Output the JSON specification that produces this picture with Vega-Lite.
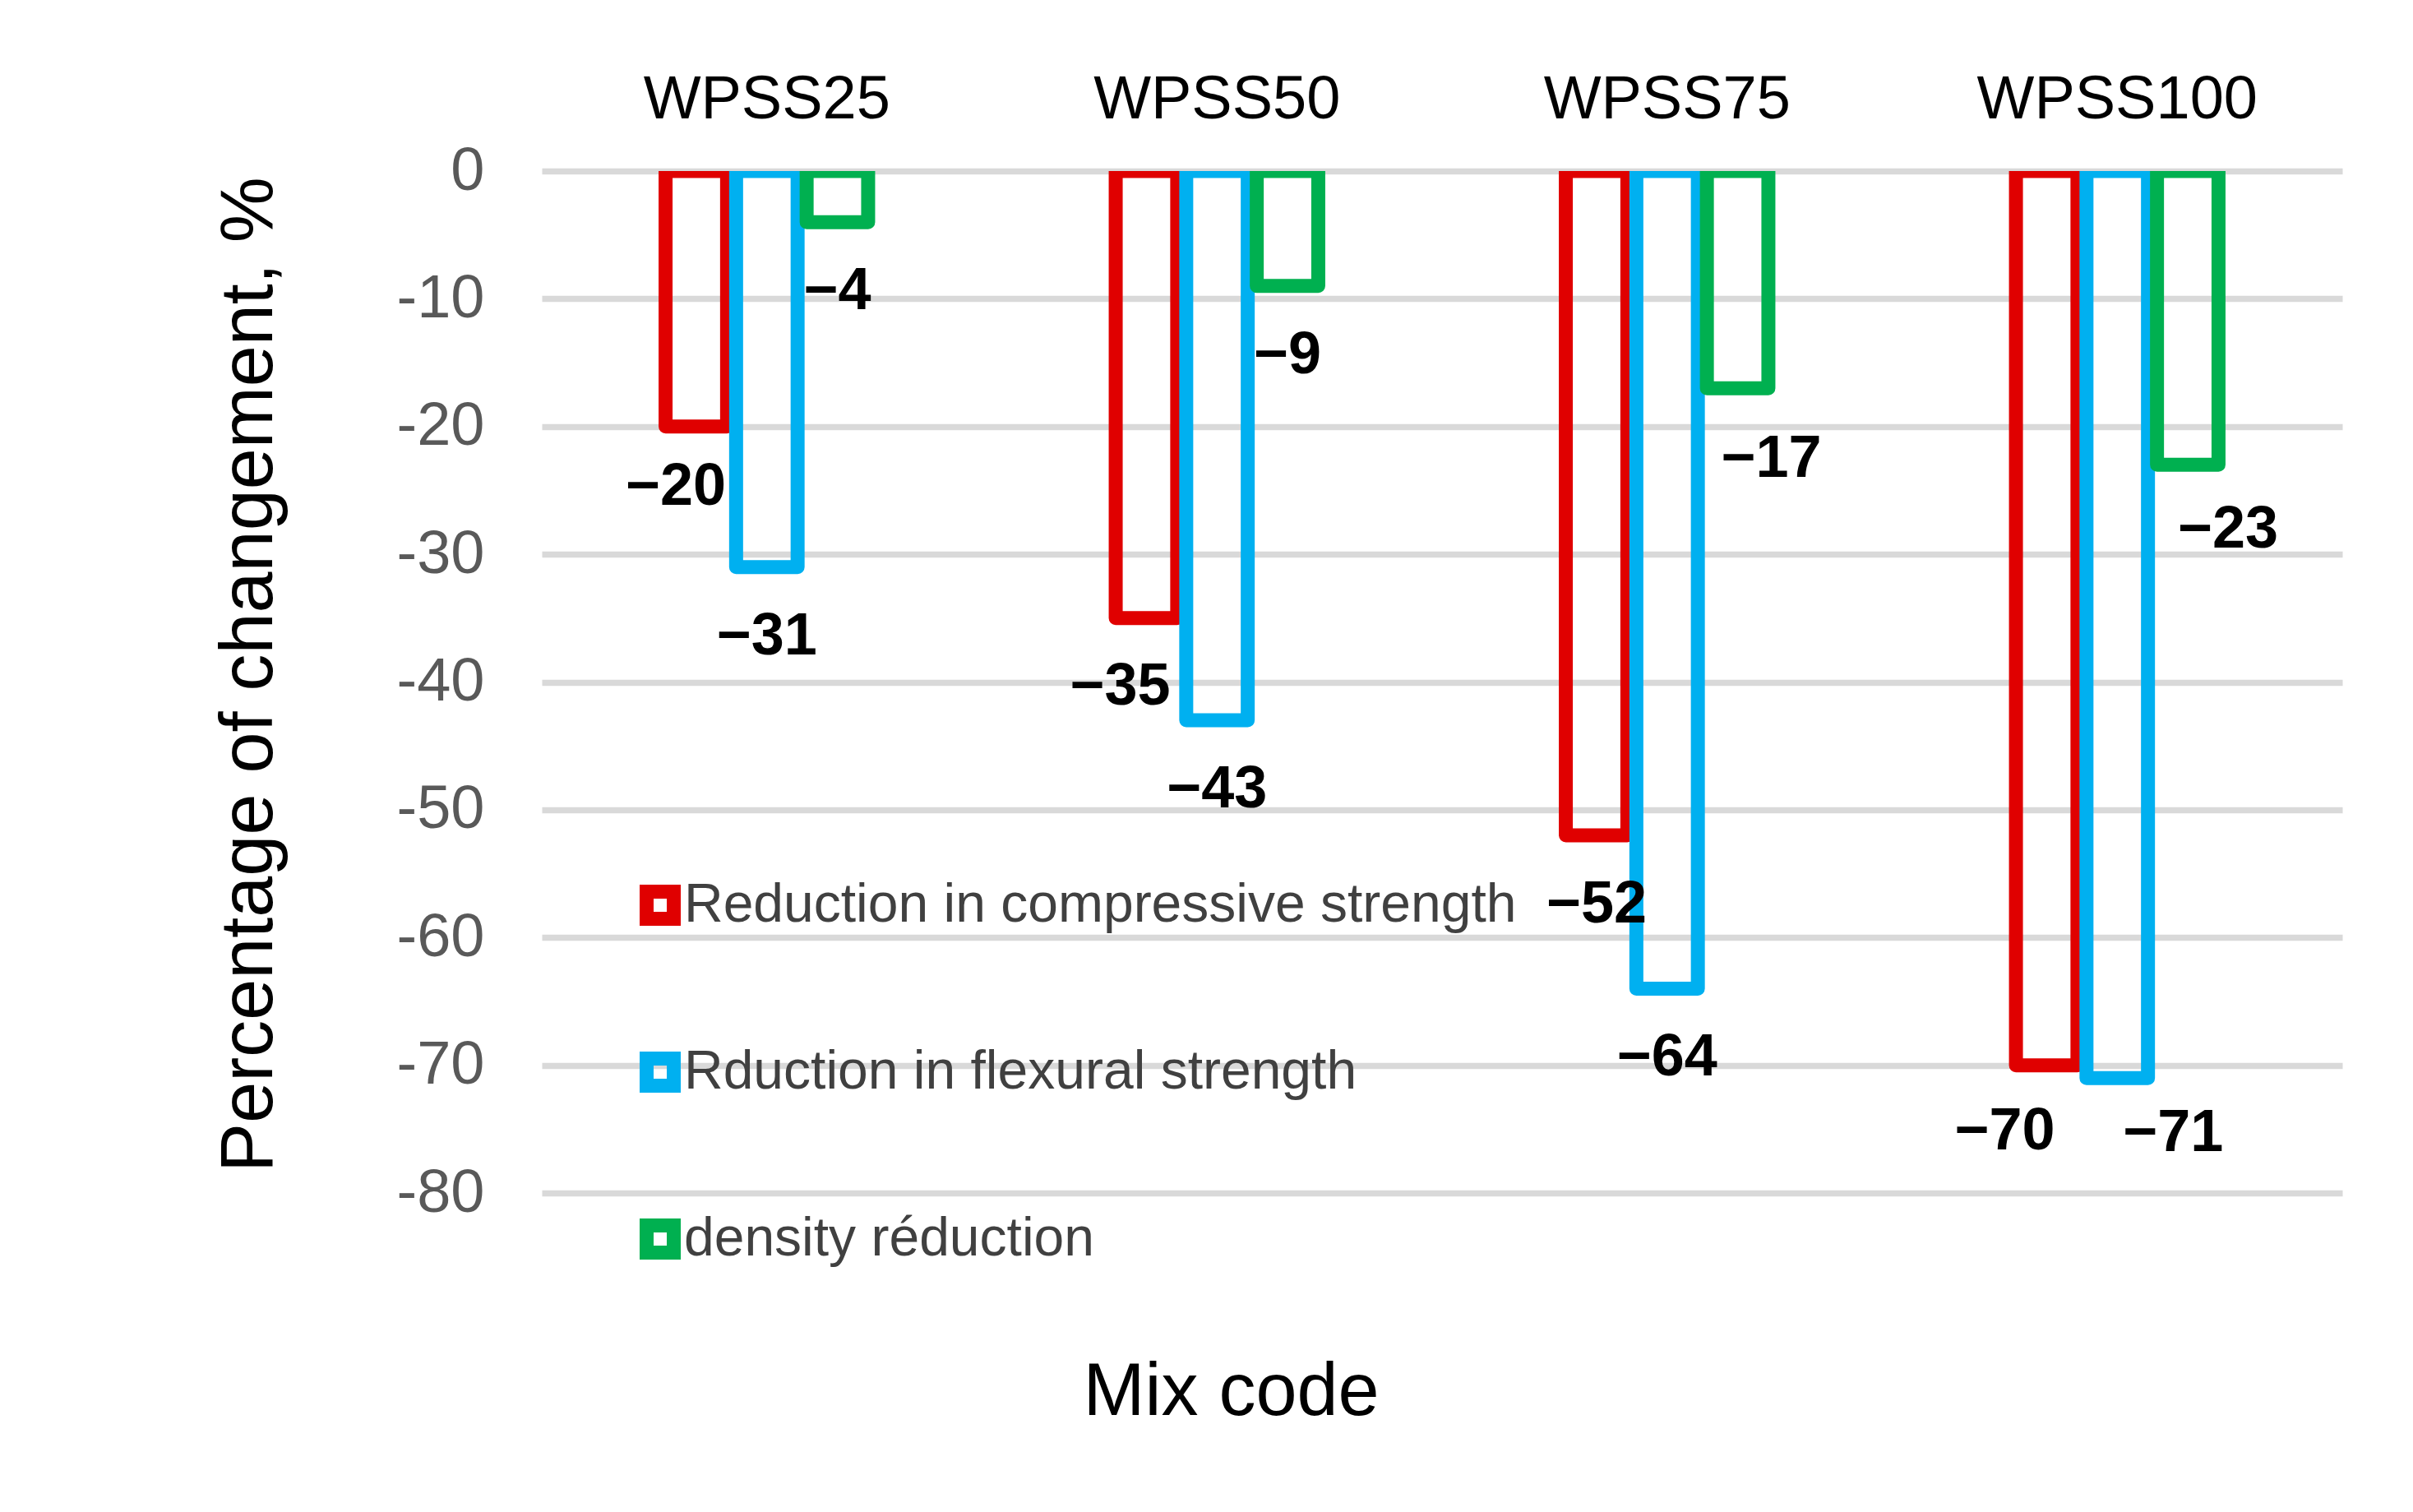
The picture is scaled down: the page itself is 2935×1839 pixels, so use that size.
{
  "$schema": "https://vega.github.io/schema/vega-lite/v6.json",
  "description": "Percentage of change in compressive strength, flexural strength and density for the WPSS mixes.",
  "width": 2190,
  "height": 1243,
  "autosize": "none",
  "padding": {"left": 659, "top": 208, "right": 86, "bottom": 388},
  "background": "white",
  "config": {
    "view": {"stroke": null},
    "font": "Liberation Sans",
    "text": {"fontSize": 72, "fontWeight": "bold", "color": "black", "align": "center", "baseline": "middle"}
  },
  "data": {
    "values": [
      {"mix": "WPSS25", "type": "Reduction in compressive strength", "value": -20},
      {"mix": "WPSS25", "type": "Rduction in flexural strength", "value": -31},
      {"mix": "WPSS25", "type": "density réduction", "value": -4},
      {"mix": "WPSS50", "type": "Reduction in compressive strength", "value": -35},
      {"mix": "WPSS50", "type": "Rduction in flexural strength", "value": -43},
      {"mix": "WPSS50", "type": "density réduction", "value": -9},
      {"mix": "WPSS75", "type": "Reduction in compressive strength", "value": -52},
      {"mix": "WPSS75", "type": "Rduction in flexural strength", "value": -64},
      {"mix": "WPSS75", "type": "density réduction", "value": -17},
      {"mix": "WPSS100", "type": "Reduction in compressive strength", "value": -70},
      {"mix": "WPSS100", "type": "Rduction in flexural strength", "value": -71},
      {"mix": "WPSS100", "type": "density réduction", "value": -23}
    ]
  },
  "encoding": {
    "x": {
      "field": "mix",
      "type": "nominal",
      "sort": ["WPSS25", "WPSS50", "WPSS75", "WPSS100"],
      "scale": {"paddingInner": 0.55, "paddingOuter": 0.275},
      "axis": {
        "orient": "top",
        "title": "Mix code",
        "domain": false,
        "ticks": false,
        "tickSize": 0,
        "grid": false,
        "labelAngle": 0,
        "labelLimit": 0,
        "labelFontSize": 74,
        "labelColor": "black",
        "labelPadding": 65,
        "labelBaseline": "alphabetic",
        "titleFontSize": 90,
        "titleFontWeight": "normal",
        "titleColor": "black",
        "titleX": 838,
        "titleY": 1512,
        "titleAlign": "center",
        "titleBaseline": "alphabetic",
        "titleAngle": 0
      }
    },
    "xOffset": {
      "field": "type",
      "type": "nominal",
      "sort": ["Reduction in compressive strength", "Rduction in flexural strength", "density réduction"],
      "scale": {"paddingInner": 0.128, "paddingOuter": 0}
    },
    "y": {
      "field": "value",
      "type": "quantitative",
      "scale": {"domain": [-80, 0], "nice": false},
      "axis": {
        "title": "Percentage of changement, %",
        "values": [-80, -70, -60, -50, -40, -30, -20, -10, 0],
        "domain": false,
        "ticks": false,
        "tickSize": 0,
        "grid": true,
        "gridColor": "#d9d9d9",
        "gridWidth": 7.5,
        "labelFontSize": 74,
        "labelColor": "#595959",
        "labelPadding": 70,
        "labelExpr": "datum.value == 0 ? '0' : '-' + abs(datum.value)",
        "titleFontSize": 90,
        "titleFontWeight": "normal",
        "titleColor": "black",
        "titleX": -329,
        "titleY": 612,
        "titleAngle": -90,
        "titleAlign": "center",
        "titleBaseline": "alphabetic"
      }
    }
  },
  "layer": [
    {
      "mark": {"type": "bar", "filled": false, "strokeWidth": 17, "strokeJoin": "round", "clip": true},
      "encoding": {
        "color": {
          "field": "type",
          "type": "nominal",
          "scale": {
            "domain": ["Reduction in compressive strength", "Rduction in flexural strength", "density réduction"],
            "range": ["#e00000", "#00b0f0", "#00b050"]
          },
          "legend": {
            "orient": "none",
            "legendX": 111,
            "legendY": 860,
            "title": null,
            "padding": 0,
            "symbolType": "square",
            "symbolSize": 1089,
            "symbolStrokeWidth": 17,
            "symbolFillColor": "white",
            "labelFontSize": 66,
            "labelColor": "#404040",
            "labelLimit": 3000,
            "labelOffset": -4,
            "rowPadding": 101
          }
        }
      }
    },
    {
      "transform": [
        {"filter": "(datum.type == 'Rduction in flexural strength' && datum.mix != 'WPSS100') || (datum.type == 'density réduction' && (datum.mix == 'WPSS25' || datum.mix == 'WPSS50')) || (datum.type == 'Reduction in compressive strength' && datum.mix == 'WPSS75')"}
      ],
      "mark": {"type": "text", "dy": 84},
      "encoding": {"text": {"field": "value", "type": "quantitative", "format": "d"}}
    },
    {
      "transform": [{"filter": "datum.mix == 'WPSS25' && datum.type == 'Reduction in compressive strength'"}],
      "mark": {"type": "text", "dx": -25, "dy": 73},
      "encoding": {"text": {"field": "value", "type": "quantitative", "format": "d"}}
    },
    {
      "transform": [{"filter": "datum.mix == 'WPSS50' && datum.type == 'Reduction in compressive strength'"}],
      "mark": {"type": "text", "dx": -32, "dy": 83},
      "encoding": {"text": {"field": "value", "type": "quantitative", "format": "d"}}
    },
    {
      "transform": [{"filter": "datum.mix == 'WPSS100' && datum.type == 'Reduction in compressive strength'"}],
      "mark": {"type": "text", "dx": -51, "dy": 80},
      "encoding": {"text": {"field": "value", "type": "quantitative", "format": "d"}}
    },
    {
      "transform": [{"filter": "datum.mix == 'WPSS75' && datum.type == 'density réduction'"}],
      "mark": {"type": "text", "dx": 41, "dy": 86},
      "encoding": {"text": {"field": "value", "type": "quantitative", "format": "d"}}
    },
    {
      "transform": [{"filter": "datum.mix == 'WPSS100' && datum.type == 'density réduction'"}],
      "mark": {"type": "text", "dx": 49, "dy": 79},
      "encoding": {"text": {"field": "value", "type": "quantitative", "format": "d"}}
    },
    {
      "transform": [{"filter": "datum.mix == 'WPSS100' && datum.type == 'Rduction in flexural strength'"}],
      "mark": {"type": "text", "dx": 68, "dy": 67},
      "encoding": {"text": {"field": "value", "type": "quantitative", "format": "d"}}
    }
  ]
}
